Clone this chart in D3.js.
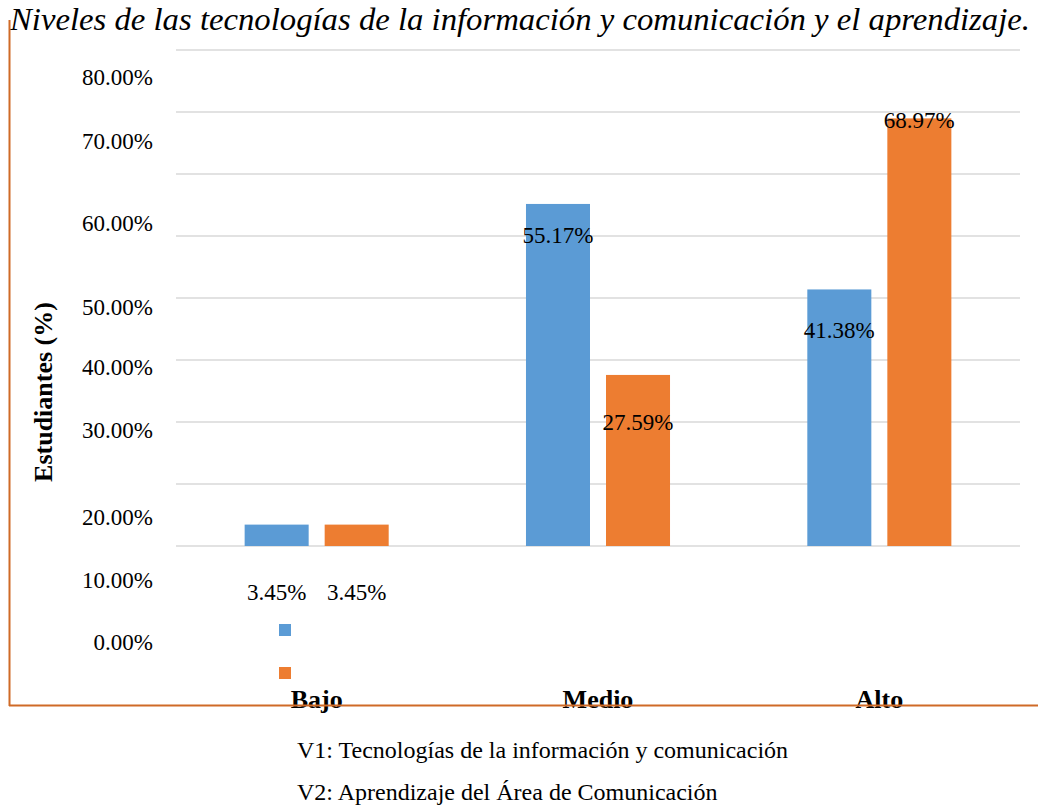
<!DOCTYPE html>
<html>
<head>
<meta charset="utf-8">
<script src="https://cdn.jsdelivr.net/npm/d3@7"></script>
<style>
  body { margin: 0; background: #fff; }
  text { font-family: "Liberation Serif", "Times New Roman", serif; fill: #000; }
</style>
</head>
<body>
<div id="chart-area"></div>
<script>
// Data
var categories = ["Bajo", "Medio", "Alto"];
var seriesNames = ["V1", "V2"];
var v1Values = [3.45, 55.17, 41.38];
var v2Values = [3.45, 27.59, 68.97];
var tickValues = [0, 10, 20, 30, 40, 50, 60, 70, 80];
var legendLabels = [
    "V1: Tecnologías de la información y comunicación",
    "V2: Aprendizaje del Área de Comunicación"
];
var colors = ["#5B9BD5", "#ED7D31"];

var width = 1038, height = 805;

var svg = d3.select("#chart-area")
    .append("svg")
    .attr("width", width)
    .attr("height", height);

// Title
svg.append("text")
    .attr("x", 10)
    .attr("y", 30)
    .attr("font-size", "31px")
    .attr("font-style", "italic")
    .attr("textLength", 1020)
    .attr("lengthAdjust", "spacingAndGlyphs")
    .text("Niveles de las tecnologías de la información y comunicación y el aprendizaje.");

// Scales
var x0 = d3.scaleBand()
    .domain(categories)
    .range([176, 1020])
    .paddingInner(0.488)
    .paddingOuter(0.244);

var x1 = d3.scaleBand()
    .domain(seriesNames)
    .range([0, x0.bandwidth()])
    .paddingInner(0.2);

var y = d3.scaleLinear()
    .domain([0, 80])
    .range([546, 50]);

// the text layer of the original sits on a slightly stretched scale
var yText = d3.scaleLinear()
    .domain(tickValues)
    .range([642, 580, 517, 430, 367, 307, 223, 141, 77]);

// Gridlines
svg.append("g")
    .selectAll("line")
    .data(tickValues)
    .enter()
    .append("line")
    .attr("x1", 176)
    .attr("x2", 1020)
    .attr("y1", function(d){ return y(d); })
    .attr("y2", function(d){ return y(d); })
    .attr("stroke", "#D9D9D9")
    .attr("stroke-width", 1.5);

// Y tick labels
var yAxisCall = d3.axisLeft(yText)
    .tickValues(tickValues)
    .tickSize(0)
    .tickPadding(0)
    .tickFormat(function(d){ return d3.format(".2f")(d) + "%"; });

var yAxisGroup = svg.append("g")
    .attr("transform", "translate(153,0)")
    .call(yAxisCall);
yAxisGroup.select(".domain").remove();
yAxisGroup.selectAll("text")
    .attr("font-family", "Liberation Serif, Times New Roman, serif")
    .attr("font-size", "23px")
    .attr("fill", "#000");

// Y label
svg.append("text")
    .attr("transform", "translate(52,392) rotate(-90)")
    .attr("text-anchor", "middle")
    .attr("font-size", "26px")
    .attr("font-weight", "bold")
    .text("Estudiantes (%)");

// Bars
var rows = categories.map(function(c, i){
    return { cat: c, values: [
        { s: seriesNames[0], v: v1Values[i], color: colors[0] },
        { s: seriesNames[1], v: v2Values[i], color: colors[1] }
    ]};
});

var groups = svg.append("g")
    .selectAll("g")
    .data(rows)
    .enter()
    .append("g")
    .attr("transform", function(d){ return "translate(" + x0(d.cat) + ",0)"; });

groups.selectAll("rect")
    .data(function(d){ return d.values; })
    .enter()
    .append("rect")
    .attr("x", function(d){ return x1(d.s); })
    .attr("y", function(d){ return y(d.v); })
    .attr("width", x1.bandwidth())
    .attr("height", function(d){ return y(0) - y(d.v); })
    .attr("fill", function(d){ return d.color; });

groups.selectAll("text.val")
    .data(function(d){ return d.values; })
    .enter()
    .append("text")
    .attr("class", "val")
    .attr("x", function(d){ return x1(d.s) + x1.bandwidth() / 2; })
    .attr("y", function(d){ return yText(d.v) - 29; })
    .attr("dy", "0.35em")
    .attr("text-anchor", "middle")
    .attr("font-size", "23px")
    .text(function(d){ return d3.format(".2f")(d.v) + "%"; });

// Category labels
svg.append("g")
    .selectAll("text")
    .data(categories)
    .enter()
    .append("text")
    .attr("x", function(d){ return x0(d) + x0.bandwidth() / 2; })
    .attr("y", 708)
    .attr("text-anchor", "middle")
    .attr("font-size", "26px")
    .attr("font-weight", "bold")
    .text(function(d){ return d; });

// Frame lines
svg.append("line")
    .attr("x1", 9.5).attr("x2", 9.5)
    .attr("y1", 20).attr("y2", 706)
    .attr("stroke", "#CF6A27")
    .attr("stroke-width", 2);
svg.append("line")
    .attr("x1", 9).attr("x2", 1038)
    .attr("y1", 705.5).attr("y2", 705.5)
    .attr("stroke", "#CF6A27")
    .attr("stroke-width", 2);

// Legend markers
svg.append("g")
    .selectAll("rect")
    .data(colors)
    .enter()
    .append("rect")
    .attr("x", 279)
    .attr("y", function(d, i){ return 624 + i * 43; })
    .attr("width", 12)
    .attr("height", 12)
    .attr("fill", function(d){ return d; });

// Legend text
svg.append("g")
    .selectAll("text")
    .data(legendLabels)
    .enter()
    .append("text")
    .attr("x", 297)
    .attr("y", function(d, i){ return 758 + i * 42; })
    .attr("font-size", "24px")
    .text(function(d){ return d; });
</script>
</body>
</html>
